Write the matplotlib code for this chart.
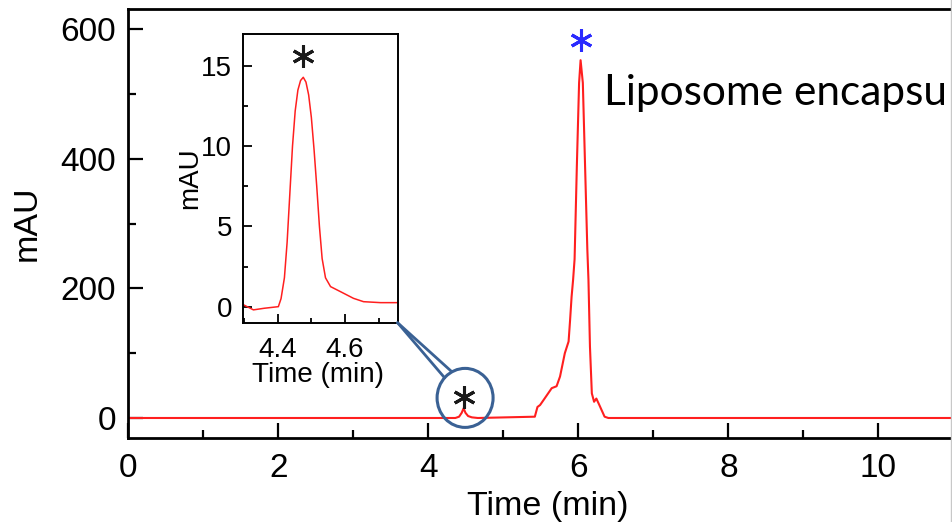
import matplotlib
matplotlib.use("Agg")
import matplotlib.pyplot as plt
import numpy as np
from matplotlib.patches import Ellipse, ConnectionPatch
from matplotlib.lines import Line2D

plt.rcParams['font.family'] = ['Liberation Sans', 'DejaVu Sans']

# main chromatogram (time in min, absorbance in mAU)
time = [0, 4.36, 4.41, 4.445, 4.47, 4.495, 4.53, 4.58, 4.66,
        5.42, 5.455, 5.49, 5.55, 5.645, 5.71, 5.756, 5.82, 5.87, 5.89, 5.91, 5.93,
        5.95, 5.98, 6.01, 6.03, 6.06, 6.09, 6.12, 6.135, 6.155, 6.18, 6.21, 6.24,
        6.28, 6.35, 6.40, 11.5]
mau = [0, 0, 2, 8, 15, 8, 3, 1, 0,
       2, 17, 20, 30, 46, 49, 64, 100, 118, 151, 187, 213,
       245, 388, 517, 552, 517, 388, 260, 213, 110, 38, 25, 30,
       20, 2, 0, 0]

# zoomed first peak (inset)
time_zoom = [4.30, 4.328, 4.36, 4.402, 4.41, 4.42, 4.428, 4.436, 4.444, 4.452, 4.46,
             4.468, 4.476, 4.484, 4.492, 4.50, 4.508, 4.516, 4.524, 4.532, 4.542,
             4.557, 4.587, 4.625, 4.655, 4.706, 4.756]
mau_zoom = [0.1, -0.2, -0.1, 0.0, 0.5, 1.8, 4.0, 7.0, 10.0, 12.2, 13.5,
            14.1, 14.3, 14.0, 13.2, 11.8, 9.8, 7.5, 5.0, 3.0, 1.8,
            1.25, 0.93, 0.52, 0.31, 0.25, 0.25]

peak_main = (6.03, 583)
peak_small = (4.48, 33)
peak_zoom = (4.475, 15.6)

red = '#ff1f1f'
ring = '#3a6194'

fig = plt.figure(figsize=(9.52, 5.22), dpi=100)
ax = fig.add_axes([0.1348, 0.1615, 0.906, 0.8213])
ax.plot(time, mau, color=red, lw=1.5)
ax.set_xlim(0, 11.5)
ax.set_ylim(-30.4, 631)
ax.set_xticks([0, 2, 4, 6, 8, 10])
ax.set_xticks([1, 3, 5, 7, 9, 11], minor=True)
ax.set_yticks([0, 200, 400, 600])
ax.set_yticks([100, 300, 500], minor=True)
for s in ax.spines.values():
    s.set_linewidth(2.0)
ax.tick_params(which='both', direction='in', width=1.6, labelsize=24)
ax.tick_params(which='major', length=10.8)
ax.tick_params(which='minor', length=5.8)
ax.tick_params(axis='x', pad=11)
ax.tick_params(axis='y', pad=9)
ax.set_xlabel('Time (min)', fontsize=24.5)
ax.set_ylabel('mAU', fontsize=24.5)
ax.xaxis.set_label_coords(0.4866, -0.125)
ax.yaxis.set_label_coords(-0.099, 0.5)

ax.plot(*peak_main, marker=(6, 2, 0), ms=16, mew=2.2, color='#2a2aff')
ax.plot(*peak_small, marker=(6, 2, 0), ms=16, mew=2.2, color='#1a1a1a')

circle = Ellipse((4.49, 31), 2 * 28 / 75, 2 * 29.5 / 0.648, fill=False,
                 edgecolor=ring, lw=2.2, zorder=5)
ax.add_patch(circle)

fig.text(0.6345, 0.799, 'Liposome encapsu', fontsize=30.5,
         family=['Lato', 'DejaVu Sans'], color='black', va='baseline')

# inset
ins = fig.add_axes([0.2556, 0.3818, 0.162, 0.5531])
ins.plot(time_zoom, mau_zoom, color=red, lw=1.1)
ins.set_xlim(4.298, 4.756)
ins.set_ylim(-1.0, 17.0)
ins.set_xticks([4.4, 4.6])
ins.set_xticklabels(['4.4', '4.6'])
ins.set_xticks([4.3, 4.5, 4.7], minor=True)
ins.set_yticks([0, 5, 10, 15])
ins.set_yticks([2.5, 7.5, 12.5], minor=True)
for s in ins.spines.values():
    s.set_linewidth(1.4)
ins.tick_params(which='both', direction='in', width=1.3, labelsize=20)
ins.tick_params(which='major', length=6.2)
ins.tick_params(which='minor', length=3.5)
ins.tick_params(axis='x', pad=10)
ins.tick_params(axis='y', pad=8)
ins.set_xlabel('Time (min)', fontsize=20)
ins.set_ylabel('mAU', fontsize=20)
ins.xaxis.set_label_coords(0.481, -0.135)
ins.yaxis.set_label_coords(-0.261, 0.5)
ins.plot(*peak_zoom, marker=(6, 2, 0), ms=16, mew=2.2, color='#1a1a1a')

# callout from inset corner to the ring
rx, ry = 28 / 75, 29.5 / 0.648
for ang in (118, 137):
    a = np.deg2rad(ang)
    pt = (4.49 + rx * np.cos(a), 31 + ry * np.sin(a))
    con = ConnectionPatch(xyA=(1, 0), coordsA=ins.transAxes, xyB=pt, coordsB=ax.transData,
                          color=ring, lw=2.0, zorder=6)
    fig.add_artist(con)

fig.add_artist(Line2D([0.9992, 0.9992], [0, 1], transform=fig.transFigure, color='#c8c8c8', lw=1))

fig.savefig('out.png', dpi=100)
